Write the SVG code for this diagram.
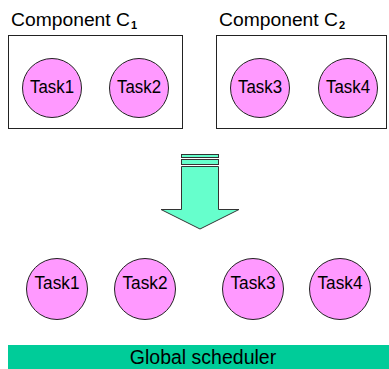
<svg xmlns="http://www.w3.org/2000/svg" width="389" height="369" viewBox="0 0 389 369">
<style>
text{font-family:"Liberation Sans",Arial,sans-serif;fill:#000}
.task circle{fill:#FF99FF;stroke:#222;stroke-width:1}
.task text{font-size:17.5px;text-anchor:middle}
.box{fill:#fff;stroke:#222;stroke-width:1}
.title{font-size:17.5px}
.sub{font-size:11px;font-weight:bold}
</style>
<rect width="389" height="369" fill="#fff"/>
<g id="compC1">
<text class="title" x="11" y="26" textLength="119" lengthAdjust="spacingAndGlyphs">Component C</text>
<text class="sub" x="131" y="29">1</text>
<rect class="box" x="8.5" y="35.5" width="174" height="93"/>
</g>
<g id="compC2">
<text class="title" x="219" y="26" textLength="119" lengthAdjust="spacingAndGlyphs">Component C</text>
<text class="sub" x="339" y="29">2</text>
<rect class="box" x="216.5" y="35.5" width="170" height="93"/>
</g>
<g id="c1task1" class="task"><circle cx="52" cy="88" r="29.5"/><text x="52" y="92.5" textLength="44" lengthAdjust="spacingAndGlyphs">Task1</text></g>
<g id="c1task2" class="task"><circle cx="139" cy="88" r="29.5"/><text x="139" y="92.5" textLength="44" lengthAdjust="spacingAndGlyphs">Task2</text></g>
<g id="c2task3" class="task"><circle cx="260" cy="88" r="29.5"/><text x="260" y="92.5" textLength="44" lengthAdjust="spacingAndGlyphs">Task3</text></g>
<g id="c2task4" class="task"><circle cx="348" cy="88" r="29.5"/><text x="348" y="92.5" textLength="44" lengthAdjust="spacingAndGlyphs">Task4</text></g>
<g id="arrow">
<rect x="181.5" y="154.5" width="37" height="3" fill="#66FFCC" stroke="#333"/>
<rect x="181.5" y="159.5" width="37" height="5" fill="#66FFCC" stroke="#333"/>
<path d="M181.5 166.5 H218.5 V209.5 H239 L200 229 L161 209.5 H181.5 Z" fill="#66FFCC" stroke="#333"/>
</g>
<g id="task1" class="task"><circle cx="57" cy="289" r="30.5"/><text x="57" y="289" textLength="45" lengthAdjust="spacingAndGlyphs">Task1</text></g>
<g id="task2" class="task"><circle cx="145" cy="289" r="30.5"/><text x="145" y="289" textLength="45" lengthAdjust="spacingAndGlyphs">Task2</text></g>
<g id="task3" class="task"><circle cx="253" cy="289" r="30.5"/><text x="253" y="289" textLength="45" lengthAdjust="spacingAndGlyphs">Task3</text></g>
<g id="task4" class="task"><circle cx="340" cy="289" r="30.5"/><text x="340" y="289" textLength="45" lengthAdjust="spacingAndGlyphs">Task4</text></g>
<g id="scheduler">
<rect x="8" y="345" width="381" height="24" fill="#00CC99"/>
<text x="203" y="364" font-size="19.5" text-anchor="middle">Global scheduler</text>
</g>
<g id="connectors"></g>
</svg>
